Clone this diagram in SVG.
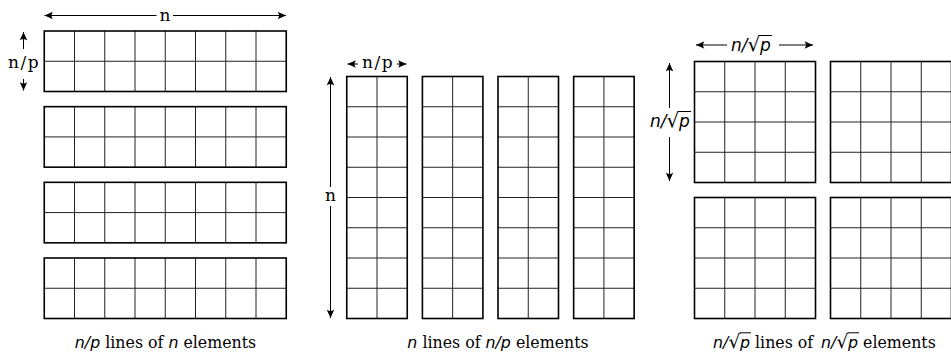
<svg xmlns="http://www.w3.org/2000/svg" width="951" height="358" viewBox="0 0 951 358">
<style>
.frame{fill:none;stroke:#000;stroke-width:1.6}
.grid{fill:none;stroke:#222;stroke-width:1}
.dim{fill:none;stroke:#000;stroke-width:1;marker-end:url(#ah)}
.lbl{font-family:"DejaVu Serif",serif;font-size:17px;fill:#000;letter-spacing:1.5px}
.cap{font-family:"DejaVu Serif",serif;font-size:15.8px;fill:#000}
.m{font-family:"DejaVu Sans",sans-serif;font-style:italic}
.r{font-family:"DejaVu Sans",sans-serif;font-style:normal}
.mlbl{font-family:"DejaVu Sans",sans-serif;font-style:italic;font-size:17px;fill:#000}
.bar{stroke:#000;stroke-width:1}
</style>
<defs>
<marker id="ah" viewBox="-9 -4 10 8" refX="0" refY="0" markerWidth="10" markerHeight="8" markerUnits="userSpaceOnUse" orient="auto">
<path d="M0,0 L-8.5,-3.8 Q-5.5,0 -8.5,3.8 Z" fill="#000"/>
</marker>
</defs>

<!-- left panel: 4 row blocks -->
<g id="row1" transform="translate(44.25,31)">
<path class="grid" d="M0,30.25H242M30.25,0V60.5M60.5,0V60.5M90.75,0V60.5M121,0V60.5M151.25,0V60.5M181.5,0V60.5M211.75,0V60.5"/>
<rect class="frame" x="0" y="0" width="242" height="60.5"/>
</g>
<g id="row2" transform="translate(44.25,106.67)">
<path class="grid" d="M0,30.25H242M30.25,0V60.5M60.5,0V60.5M90.75,0V60.5M121,0V60.5M151.25,0V60.5M181.5,0V60.5M211.75,0V60.5"/>
<rect class="frame" x="0" y="0" width="242" height="60.5"/>
</g>
<g id="row3" transform="translate(44.25,182.33)">
<path class="grid" d="M0,30.25H242M30.25,0V60.5M60.5,0V60.5M90.75,0V60.5M121,0V60.5M151.25,0V60.5M181.5,0V60.5M211.75,0V60.5"/>
<rect class="frame" x="0" y="0" width="242" height="60.5"/>
</g>
<g id="row4" transform="translate(44.25,258)">
<path class="grid" d="M0,30.25H242M30.25,0V60.5M60.5,0V60.5M90.75,0V60.5M121,0V60.5M151.25,0V60.5M181.5,0V60.5M211.75,0V60.5"/>
<rect class="frame" x="0" y="0" width="242" height="60.5"/>
</g>

<!-- middle panel: 4 column blocks -->
<g id="col1" transform="translate(346.75,76.5)">
<path class="grid" d="M30.25,0V242M0,30.25H60.5M0,60.5H60.5M0,90.75H60.5M0,121H60.5M0,151.25H60.5M0,181.5H60.5M0,211.75H60.5"/>
<rect class="frame" x="0" y="0" width="60.5" height="242"/>
</g>
<g id="col2" transform="translate(422.4,76.5)">
<path class="grid" d="M30.25,0V242M0,30.25H60.5M0,60.5H60.5M0,90.75H60.5M0,121H60.5M0,151.25H60.5M0,181.5H60.5M0,211.75H60.5"/>
<rect class="frame" x="0" y="0" width="60.5" height="242"/>
</g>
<g id="col3" transform="translate(498,76.5)">
<path class="grid" d="M30.25,0V242M0,30.25H60.5M0,60.5H60.5M0,90.75H60.5M0,121H60.5M0,151.25H60.5M0,181.5H60.5M0,211.75H60.5"/>
<rect class="frame" x="0" y="0" width="60.5" height="242"/>
</g>
<g id="col4" transform="translate(573.65,76.5)">
<path class="grid" d="M30.25,0V242M0,30.25H60.5M0,60.5H60.5M0,90.75H60.5M0,121H60.5M0,151.25H60.5M0,181.5H60.5M0,211.75H60.5"/>
<rect class="frame" x="0" y="0" width="60.5" height="242"/>
</g>

<!-- right panel: 4 square blocks -->
<g id="sq1" transform="translate(694.5,61.5)">
<path class="grid" d="M30.25,0V121M60.5,0V121M90.75,0V121M0,30.25H121M0,60.5H121M0,90.75H121"/>
<rect class="frame" x="0" y="0" width="121" height="121"/>
</g>
<g id="sq2" transform="translate(830.5,61.5)">
<path class="grid" d="M30.25,0V121M60.5,0V121M90.75,0V121M0,30.25H121M0,60.5H121M0,90.75H121"/>
<rect class="frame" x="0" y="0" width="121" height="121"/>
</g>
<g id="sq3" transform="translate(694.5,197.5)">
<path class="grid" d="M30.25,0V121M60.5,0V121M90.75,0V121M0,30.25H121M0,60.5H121M0,90.75H121"/>
<rect class="frame" x="0" y="0" width="121" height="121"/>
</g>
<g id="sq4" transform="translate(830.5,197.5)">
<path class="grid" d="M30.25,0V121M60.5,0V121M90.75,0V121M0,30.25H121M0,60.5H121M0,90.75H121"/>
<rect class="frame" x="0" y="0" width="121" height="121"/>
</g>

<!-- dimension connectors -->
<g id="connectors">
<path class="dim" d="M156.5,15.5H44.5"/>
<path class="dim" d="M173,15.5H286"/>
<path class="dim" d="M23.5,49V32"/>
<path class="dim" d="M23.5,79V90.5"/>
<path class="dim" d="M358,64H347.5"/>
<path class="dim" d="M397,64H406.5"/>
<path class="dim" d="M330.5,187V77"/>
<path class="dim" d="M330.5,206V318"/>
<path class="dim" d="M727,45H696"/>
<path class="dim" d="M779,45H813"/>
<path class="dim" d="M669.5,108V63"/>
<path class="dim" d="M669.5,137V181"/>
</g>

<!-- labels -->
<g id="labels">
<text class="lbl" x="165" y="21" text-anchor="middle" style="letter-spacing:0">n</text>
<text class="lbl" x="24" y="67.5" text-anchor="middle">n/p</text>
<text class="lbl" x="378" y="68" text-anchor="middle">n/p</text>
<text class="lbl" x="330.5" y="200.5" text-anchor="middle" style="letter-spacing:0">n</text>
<text class="mlbl" x="731" y="51">n/<tspan class="r" x="747.5" font-size="20">√</tspan><tspan x="760">p</tspan></text>
<line class="bar" x1="759.5" y1="35.5" x2="772" y2="35.5"/>
<text class="mlbl" x="650" y="127">n/<tspan class="r" x="666.5" font-size="20">√</tspan><tspan x="679">p</tspan></text>
<line class="bar" x1="678.5" y1="111.5" x2="691" y2="111.5"/>
</g>

<!-- captions -->
<g id="captions">
<text class="cap" x="165.5" y="347.5" text-anchor="middle"><tspan class="m">n/p</tspan> lines of <tspan class="m">n</tspan> elements</text>
<text class="cap" x="498" y="347.5" text-anchor="middle"><tspan class="m">n</tspan> lines of <tspan class="m">n/p</tspan> elements</text>
<text class="cap" x="713" y="347.5"><tspan class="m">n/</tspan><tspan class="r" x="728.5" font-size="18.5">√</tspan><tspan class="m" x="740">p</tspan> lines of <tspan class="m" x="821">n/</tspan><tspan class="r" x="836.5" font-size="18.5">√</tspan><tspan class="m" x="848">p</tspan> elements</text>
<line class="bar" x1="739.5" y1="332.8" x2="751" y2="332.8"/>
<line class="bar" x1="847.5" y1="332.8" x2="859" y2="332.8"/>
</g>
</svg>
